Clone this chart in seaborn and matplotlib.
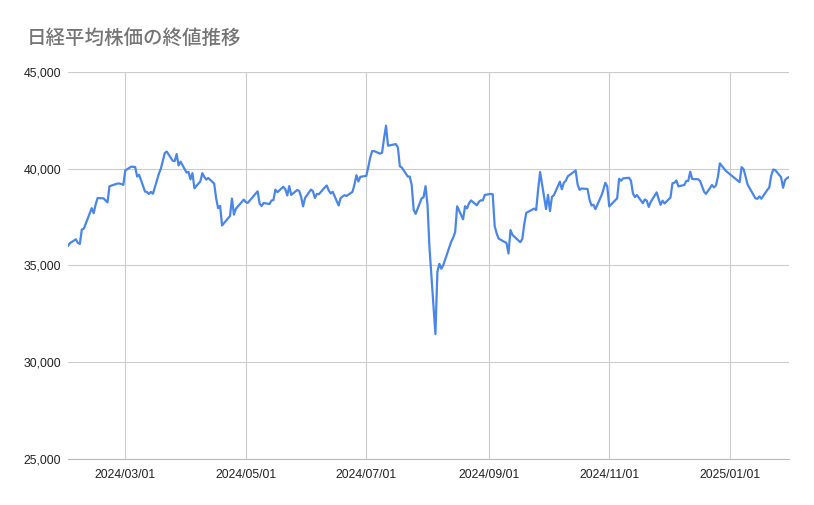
import pandas as pd
import numpy as np
import matplotlib
matplotlib.use('Agg')
import matplotlib.pyplot as plt
import matplotlib.dates as mdates
from matplotlib.ticker import FuncFormatter
import seaborn as sns

# Closing prices by month
feb_2024 = [36011, 36158, 36354, 36160, 36119, 36863, 36897, 37963, 37703, 38157,
            38487, 38470, 38364, 38262, 39098, 39233, 39239, 39208, 39166]
mar_2024 = [39910, 40109, 40097, 40090, 39598, 39688, 38820, 38797, 38695, 38807,
            38707, 39740, 40003, 40815, 40888, 40414, 40398, 40762, 40168, 40369]
apr_2024 = [39803, 39838, 39451, 39773, 38992, 39347, 39773, 39581, 39442, 39523,
            39232, 38471, 37962, 38079, 37068, 37438, 37552, 38460, 37628, 37934, 38405]
may_2024 = [38274, 38236, 38835, 38202, 38073, 38229, 38179, 38356, 38385, 38920,
            38787, 39069, 38946, 38617, 39103, 38646, 38900, 38855, 38556, 38054, 38487]
jun_2024 = [38923, 38837, 38490, 38703, 38683, 39038, 39134, 38876, 38720, 38814,
            38102, 38482, 38570, 38633, 38596, 38804, 39173, 39667, 39341, 39583]
jul_2024 = [39631, 40074, 40580, 40913, 40912, 40780, 40831, 41580, 42224, 41190,
            41275, 41097, 40126, 40063, 39599, 39594, 39154, 37869, 37667, 38468, 38526, 39101]
aug_2024 = [38126, 35909, 31458, 34675, 35089, 34831, 35025, 36232, 36442, 36726,
            38062, 37388, 38062, 37951, 38211, 38364, 38110, 38288, 38371, 38362, 38647]
sep_2024 = [38700, 38686, 37047, 36657, 36391, 36215, 36159, 35619, 36833, 36581,
            36203, 36380, 37155, 37723, 37940, 37870, 38925, 39829, 37919]
oct_2024 = [38651, 37808, 38552, 38635, 39332, 38937, 39277, 39380, 39605, 39910,
            39180, 38911, 38981, 38954, 38411, 38104, 38143, 37913, 38605, 38903, 39277, 39081]
nov_2024 = [38053, 38474, 39480, 39381, 39500, 39533, 39376, 38721, 38535, 38642,
            38220, 38414, 38352, 38026, 38283, 38780, 38442, 38134, 38349, 38208]
dec_2024 = [38513, 39248, 39276, 39395, 39091, 39160, 39367, 39372, 39849, 39470,
            39457, 39364, 39081, 38813, 38701, 39161, 39036, 39130, 39568, 40281, 39894]
jan_2025 = [39307, 40083, 39981, 39605, 39190, 38474, 38445, 38572, 38451, 38902,
            39027, 39646, 39958, 39931, 39565, 39016, 39415, 39513, 39572]

# Market holidays (Tokyo) in the period
holidays = ['2024-02-12', '2024-02-23', '2024-03-20', '2024-04-29', '2024-05-03',
            '2024-05-06', '2024-07-15', '2024-08-12', '2024-09-16', '2024-09-23',
            '2024-10-14', '2024-11-04', '2024-12-31', '2025-01-01', '2025-01-02',
            '2025-01-03', '2025-01-13']

tick_dates = ['2024-03-01', '2024-05-01', '2024-07-01', '2024-09-01', '2024-11-01', '2025-01-01']
y_ticks = [25000, 30000, 35000, 40000, 45000]
title = '日経平均株価の終値推移'

closes = (feb_2024 + mar_2024 + apr_2024 + may_2024 + jun_2024 + jul_2024 + aug_2024
          + sep_2024 + oct_2024 + nov_2024 + dec_2024 + jan_2025)
dates = pd.bdate_range('2024-02-01', '2025-01-31', freq='C', holidays=holidays)
df = pd.DataFrame({'date': dates, 'close': closes})

sns.set_theme(style='white')
plt.rcParams['font.family'] = ['Liberation Sans', 'Noto Sans CJK JP', 'DejaVu Sans']

fig = plt.figure(figsize=(8.14, 5.05), dpi=100)
ax = fig.add_axes([68 / 814, 1 - 459 / 505, (789 - 68) / 814, (459 - 72) / 505])

sns.lineplot(data=df, x='date', y='close', ax=ax, color='#4a86e8', linewidth=1.6)

ax.set_xlim(df['date'].iloc[0], df['date'].iloc[-1])
ax.set_ylim(25000, 45000)
ax.set_xticks(pd.to_datetime(tick_dates))
ax.xaxis.set_major_formatter(mdates.DateFormatter('%Y/%m/%d'))
ax.set_yticks(y_ticks)
ax.yaxis.set_major_formatter(FuncFormatter(lambda v, p: f'{int(v):,}'))
ax.grid(True, color='#cccccc', linewidth=0.8)
ax.set_axisbelow(True)
for s in ['top', 'right', 'left']:
    ax.spines[s].set_visible(False)
ax.spines['bottom'].set_color('#bbbbbb')
ax.spines['bottom'].set_linewidth(0.8)
ax.tick_params(axis='both', length=0, labelsize=8.8, labelcolor='#222222')
ax.tick_params(axis='y', pad=5)
ax.tick_params(axis='x', pad=7)
ax.set_xlabel('')
ax.set_ylabel('')

fig.text(27 / 814, 1 - 38 / 505, title, fontsize=14, fontweight='medium', color='#757575',
         va='center', ha='left', family=['Noto Sans CJK JP', 'DejaVu Sans'])

fig.savefig('out.png', dpi=100, facecolor='white')
